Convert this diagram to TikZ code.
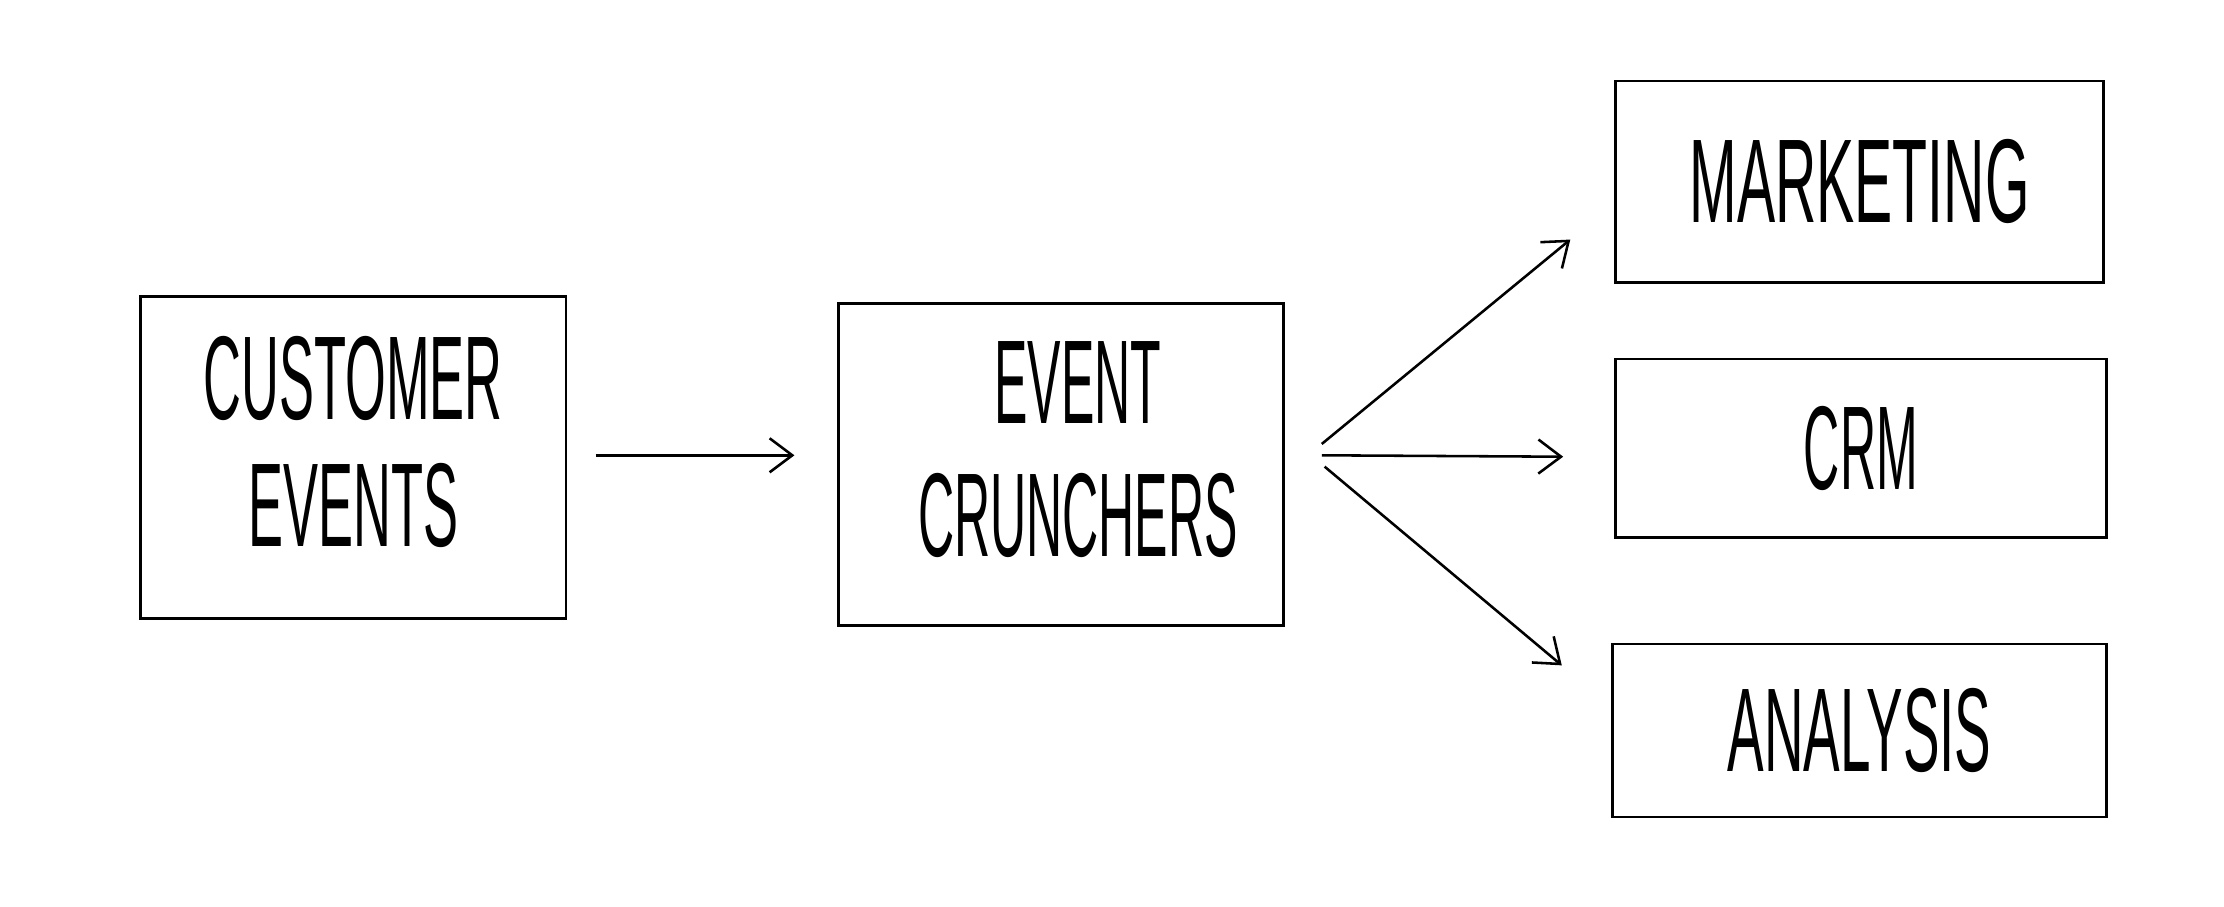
\documentclass[tikz,border=0pt]{standalone}
\usepackage{fontspec}
\setmainfont{Liberation Sans}
\usepackage{graphicx}
\usetikzlibrary{arrows.meta}
\tikzset{
  box/.style={draw=black, line width=1.8pt, inner sep=0pt, align=center,
    font=\fontsize{84}{90}\selectfont},
  arr/.style={line width=1.8pt, -{Straight Barb[length=16pt,width=24pt,line width=1.8pt]}},
}
\newcommand{\nar}[2][0.42]{\scalebox{#1}[1]{#2}}
\begin{document}
\begin{tikzpicture}[x=1pt,y=-1pt]
\useasboundingbox (0,0) rectangle (1568,639);
\node[box, minimum width=300pt, minimum height=227pt] (ce) at (249,322.5)
  {\raisebox{8pt}{\nar[0.44]{\begin{tabular}{@{}c@{}}CUSTOMER\\EVENTS\end{tabular}}}};
\node[box, minimum width=314pt, minimum height=227pt] (ec) at (748,327.5)
  {\raisebox{10pt}{\hspace*{24pt}\nar{\begin{tabular}{@{}c@{}}EVENT\\[4pt]CRUNCHERS\end{tabular}}}};
\node[box, minimum width=344pt, minimum height=142pt] (mk) at (1311,128)
  {\nar[0.48]{MARKETING}};
\node[box, minimum width=346pt, minimum height=126pt] (crm) at (1312,316)
  {\nar{CRM}};
\node[box, minimum width=348pt, minimum height=122pt] (an) at (1311,515)
  {\nar[0.46]{ANALYSIS}};
\draw[arr] ([xshift=20pt,yshift=1.5pt]ce.east) -- ([xshift=-30pt,yshift=6.5pt]ec.west);
\draw[arr] ([xshift=26pt,yshift=14.5pt]ec.east) -- ([xshift=-31pt,yshift=31pt]mk.south west);
\draw[arr] ([xshift=26pt,yshift=6.5pt]ec.east) -- ([xshift=-36pt,yshift=-6pt]crm.west);
\draw[arr] ([xshift=28pt,yshift=-1.5pt]ec.east) -- ([xshift=-35pt,yshift=-16pt]an.north west);
\end{tikzpicture}
\end{document}
